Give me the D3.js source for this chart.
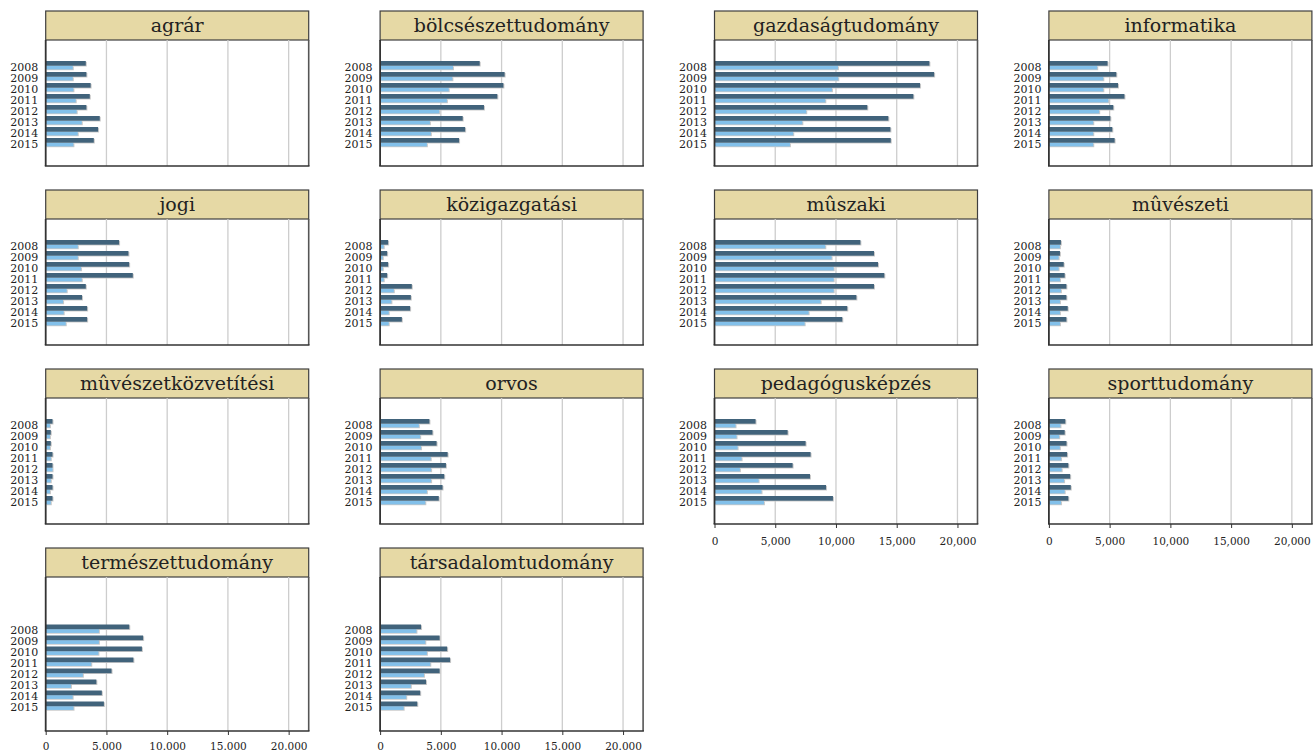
<!DOCTYPE html>
<html>
<head>
<meta charset="utf-8">
<script src="https://cdn.jsdelivr.net/npm/d3@7/dist/d3.min.js"></script>
<style>
  html, body { margin: 0; padding: 0; background: #fff; }
  svg { display: block; }
  text { font-family: "DejaVu Serif", serif; fill: #222; }
</style>
</head>
<body>
<svg id="chart" width="1314" height="755"></svg>
<script>
// ---- data ----
const years = ["2008", "2009", "2010", "2011", "2012", "2013", "2014", "2015"];
const categories = [
  "agrár", "bölcsészettudomány", "gazdaságtudomány", "informatika",
  "jogi", "közigazgatási", "mûszaki", "mûvészeti",
  "mûvészetközvetítési", "orvos", "pedagógusképzés", "sporttudomány",
  "természettudomány", "társadalomtudomány"
];
// dark series (upper bar of each year)
const seriesDark = [
  [3300, 3350, 3700, 3630, 3350, 4450, 4310, 3960],
  [8200, 10250, 10150, 9650, 8550, 6800, 7000, 6500],
  [17690, 18080, 16920, 16370, 12580, 14310, 14480, 14510],
  [4830, 5550, 5690, 6220, 5300, 5060, 5220, 5410],
  [6040, 6810, 6870, 7170, 3300, 2990, 3410, 3410],
  [660, 580, 660, 580, 2610, 2530, 2470, 1790],
  [12010, 13130, 13460, 13980, 13130, 11680, 10930, 10520],
  [990, 910, 1220, 1300, 1440, 1440, 1550, 1440],
  [560, 420, 420, 560, 560, 560, 560, 560],
  [4060, 4310, 4650, 5560, 5420, 5280, 5140, 4830],
  [3380, 6020, 7500, 7910, 6430, 7860, 9180, 9750],
  [1350, 1300, 1450, 1500, 1600, 1750, 1800, 1600],
  [6880, 8020, 7920, 7220, 5420, 4170, 4620, 4790],
  [3370, 4900, 5520, 5760, 4900, 3780, 3300, 3060]
];
// light series (lower bar of each year)
const seriesLight = [
  [2230, 2230, 2280, 2470, 2550, 2970, 2640, 2280],
  [6000, 5950, 5650, 5500, 4870, 4100, 4180, 3850],
  [10160, 10190, 9670, 9120, 7550, 7230, 6480, 6210],
  [3980, 4480, 4480, 4890, 4140, 3650, 3650, 3650],
  [2640, 2640, 2910, 2970, 1730, 1430, 1480, 1650],
  [300, 220, 220, 300, 1130, 930, 710, 710],
  [9120, 9640, 9810, 9810, 9810, 8740, 7750, 7420],
  [910, 800, 800, 910, 990, 910, 910, 910],
  [350, 350, 350, 420, 560, 420, 350, 420],
  [3190, 3300, 3370, 4170, 4200, 4200, 3850, 3720],
  [1730, 1810, 1900, 2230, 2090, 3630, 3870, 4070],
  [950, 850, 900, 1000, 1050, 1250, 1300, 1000],
  [4380, 4380, 4340, 3750, 3060, 2080, 2220, 2290],
  [2990, 3720, 3850, 4130, 3610, 2530, 2150, 1940]
];
const tickValues = [0, 5000, 10000, 15000, 20000];
const tickLabelsComma = ["0", "5,000", "10,000", "15,000", "20,000"];
const tickLabelsDot = ["0", "5.000", "10.000", "15.000", "20.000"];
const xMax = 21650;

// ---- layout ----
const svg = d3.select("#chart");
const colLeft = c => 45.7 + 334.4 * c;
const panelW = 263;
const rowTop = r => 11 + 179 * r;
const titleH = 29;
const plotH = 126;
const lastRowPlotH = 154;
const groupBlock = 88;

const colorDark = "#41637b";
const colorLight = "#82c0ea";
const shadow = "#c9c9c9";

categories.forEach((cat, i) => {
  const r = Math.floor(i / 4), c = i % 4;
  const x0 = colLeft(c);
  const tTop = rowTop(r);
  const pTop = tTop + titleH;
  const h = (r === 3) ? lastRowPlotH : plotH;
  const pBot = pTop + h;
  const showAxis = (r === 3) || (r === 2 && c >= 2);
  const labels = (r === 3) ? tickLabelsDot : tickLabelsComma;

  const g = svg.append("g");

  const x = d3.scaleLinear().domain([0, xMax]).range([x0, x0 + panelW]);
  const bandBottom = (r === 3) ? pBot - 18.5 : pBot - 17;
  const y = d3.scaleBand().domain(years).range([bandBottom - groupBlock, bandBottom]).padding(0);
  const ySub = d3.scaleBand().domain(["dark", "light"]).range([0, y.step() * 0.85]).paddingInner(0);

  // title box
  g.append("rect")
    .attr("x", x0).attr("y", tTop).attr("width", panelW).attr("height", titleH)
    .attr("fill", "#e6d9a5").attr("stroke", "#3f3f3f").attr("stroke-width", 1.2);
  g.append("text")
    .attr("x", x0 + panelW / 2).attr("y", tTop + titleH / 2 + 6.5)
    .attr("text-anchor", "middle").attr("font-size", 19)
    .text(cat);

  // gridlines
  g.selectAll("line.grid").data(tickValues.slice(1)).enter().append("line")
    .attr("x1", d => x(d)).attr("x2", d => x(d))
    .attr("y1", pTop).attr("y2", pBot)
    .attr("stroke", "#cdcdcd").attr("stroke-width", 1.3);

  const dark = seriesDark[i], light = seriesLight[i];
  const rows = years.map((yr, k) => ({ yr, d: dark[k], l: light[k] }));

  // shadows
  g.selectAll("rect.sd").data(rows).enter().append("rect")
    .attr("x", x(0) + 1).attr("y", d => y(d.yr) + ySub("dark") + 0.8)
    .attr("width", d => x(d.d) - x(0)).attr("height", ySub.bandwidth())
    .attr("fill", shadow);
  g.selectAll("rect.sl").data(rows).enter().append("rect")
    .attr("x", x(0) + 1).attr("y", d => y(d.yr) + ySub("light") + 0.8)
    .attr("width", d => x(d.l) - x(0)).attr("height", ySub.bandwidth() * 0.8)
    .attr("fill", shadow);
  // bars
  g.selectAll("rect.bl").data(rows).enter().append("rect")
    .attr("x", x(0)).attr("y", d => y(d.yr) + ySub("light"))
    .attr("width", d => x(d.l) - x(0)).attr("height", ySub.bandwidth() * 0.8)
    .attr("fill", colorLight);
  g.selectAll("rect.bd").data(rows).enter().append("rect")
    .attr("x", x(0)).attr("y", d => y(d.yr) + ySub("dark"))
    .attr("width", d => x(d.d) - x(0)).attr("height", ySub.bandwidth())
    .attr("fill", colorDark);

  // year labels
  g.selectAll("text.yr").data(years).enter().append("text")
    .attr("x", x0 - 7.5).attr("y", d => y(d) + y.step() / 2 + 4)
    .attr("text-anchor", "end").attr("font-size", 11)
    .text(d => d);

  // frame lines
  g.append("line").attr("x1", x0).attr("x2", x0).attr("y1", pTop).attr("y2", pBot)
    .attr("stroke", "#333").attr("stroke-width", 1.8);
  g.append("line").attr("x1", x0 + panelW).attr("x2", x0 + panelW).attr("y1", pTop).attr("y2", pBot)
    .attr("stroke", "#555").attr("stroke-width", 1.6);
  g.append("line").attr("x1", x0 - 0.9).attr("x2", x0 + panelW + 0.8).attr("y1", pBot).attr("y2", pBot)
    .attr("stroke", "#333").attr("stroke-width", 1.6);

  if (showAxis) {
    const axis = d3.axisBottom(x).tickValues(tickValues)
      .tickFormat((d, k) => labels[k]).tickSize(4).tickPadding(r === 3 ? 8 : 10);
    const ag = g.append("g").attr("transform", `translate(0,${pBot})`).call(axis);
    ag.select(".domain").remove();
    ag.selectAll(".tick line").attr("stroke", "#333");
    ag.selectAll(".tick text").attr("font-size", 10.5)
      .attr("font-family", "DejaVu Serif, serif").attr("fill", "#222");
  }
});
</script>
</body>
</html>
